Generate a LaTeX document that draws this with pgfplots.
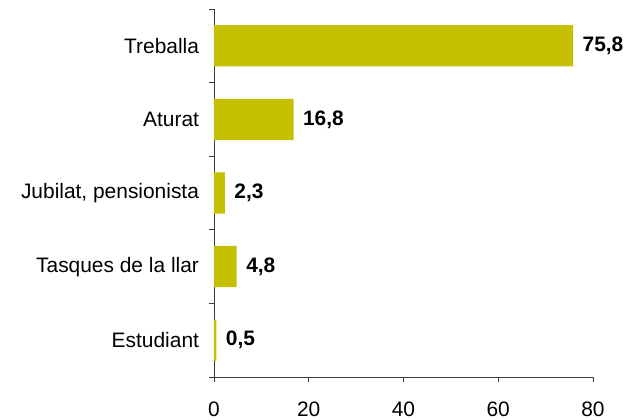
\documentclass[border=0pt]{standalone}
\usepackage{fontspec}
\setmainfont{Liberation Sans}
\usepackage{pgfplots}
\pgfplotsset{compat=1.18}
\definecolor{barc}{RGB}{196,192,0}
\definecolor{axc}{RGB}{60,60,60}
\begin{document}
\begin{tikzpicture}
\path (-214bp,-42bp) rectangle (413bp,377bp);
\begin{axis}[
  at={(0,0)}, anchor=south west,
  scale only axis, width=379bp, height=368bp,
  font=\fontsize{21}{25}\selectfont,
  xbar, bar width=0.56, bar shift=0pt,
  xmin=0, xmax=80, ymin=-0.5, ymax=4.5,
  axis x line*=bottom, axis y line*=left,
  axis line style={axc, line width=0.8bp},
  xtick={0,20,40,60,80},
  minor xtick={0,20,40,60,80},
  ytick={0,1,2,3,4},
  yticklabels={Estudiant, Tasques de la llar, {Jubilat, pensionista}, Aturat, Treballa},
  minor ytick={-0.5,0.5,1.5,2.5,3.5,4.5},
  tick align=outside,
  major tick length=0pt,
  minor tick length=5bp,
  tick style={axc, line width=0.8bp},
  /pgf/number format/assume math mode=true,
  yticklabel style={xshift=-11.5bp},
  xticklabel style={yshift=-21bp},
  nodes near coords,
  point meta=x,
  nodes near coords style={font=\fontsize{21}{25}\selectfont\bfseries, anchor=west, xshift=6bp,
    /pgf/number format/.cd, fixed, fixed zerofill, precision=1, use comma, assume math mode=true},
]
\addplot[fill=barc, draw=none] coordinates {
  (0.5,0) (4.8,1) (2.3,2) (16.8,3) (75.8,4)
};
\end{axis}
\end{tikzpicture}
\end{document}
